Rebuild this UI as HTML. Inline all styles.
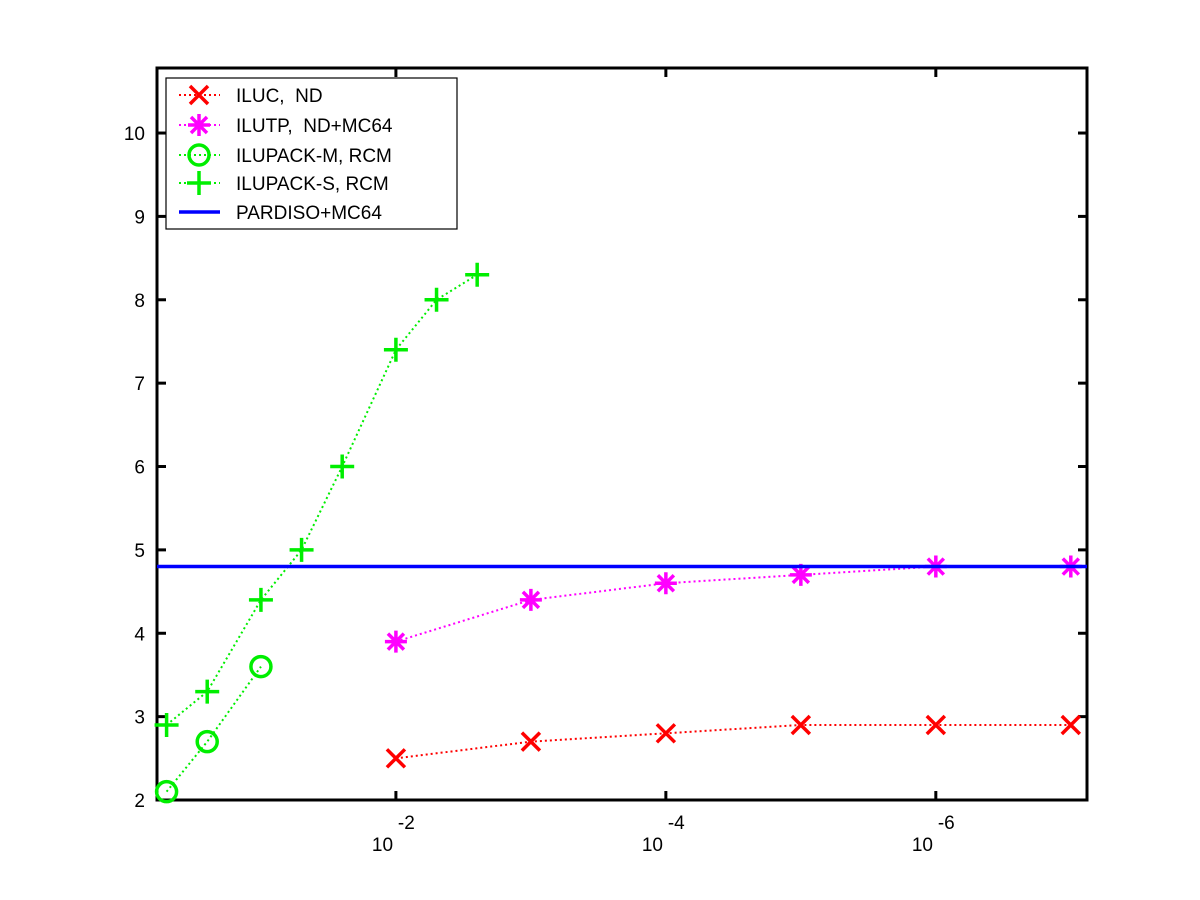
<!DOCTYPE html>
<html><head><meta charset="utf-8"><style>body{margin:0;background:#fff}svg{display:block;font-family:"Liberation Sans",sans-serif}</style></head>
<body>
<svg id="c" width="1200" height="900"></svg>
<script>
const xExp=[-0.30103,-0.60206,-1,-1.30103,-1.60206,-2,-2.30103,-2.60206];
const ilucX=[-2,-3,-4,-5,-6,-7];
const ilucY=[2.5,2.7,2.8,2.9,2.9,2.9];
const ilutpX=[-2,-3,-4,-5,-6,-7];
const ilutpY=[3.9,4.4,4.6,4.7,4.8,4.8];
const ilupackMX=[-0.30103,-0.60206,-1];
const ilupackMY=[2.1,2.7,3.6];
const ilupackSY=[2.9,3.3,4.4,5.0,6.0,7.4,8.0,8.3];
const pardisoY=[4.8];
const yTicks=[2,3,4,5,6,7,8,9,10];
const xTicks=[-2,-4,-6];
const X0=157,X1=1087,Y0=800,Y1=68;
const eMin=-0.23,eMax=-7.12,yMin=2,yMax=10.78;
const sx=e=>X0+(e-eMin)/(eMax-eMin)*(X1-X0);
const sy=v=>Y0-(v-yMin)/(yMax-yMin)*(Y0-Y1);
const svg=document.getElementById('c');const NS='http://www.w3.org/2000/svg';
function mk(t,a,p){const e=document.createElementNS(NS,t);for(const k in a)e.setAttribute(k,a[k]);(p||svg).appendChild(e);return e;}
const ax=mk('g',{});


mk('rect',{x:X0,y:Y1,width:X1-X0,height:Y0-Y1,fill:'none',stroke:'#000','stroke-width':3},ax);
yTicks.forEach(v=>{const y=sy(v);
mk('line',{x1:X0,x2:X0+9,y1:y,y2:y,stroke:'#000','stroke-width':3},ax);
mk('line',{x1:X1-9,x2:X1,y1:y,y2:y,stroke:'#000','stroke-width':3},ax);
const t=mk('text',{x:X0-12,y:y+7,'text-anchor':'end','font-size':19},ax);t.textContent=v;

});
xTicks.forEach(e=>{const x=sx(e);
mk('line',{x1:x,x2:x,y1:Y0,y2:Y0-9,stroke:'#000','stroke-width':3},ax);
mk('line',{x1:x,x2:x,y1:Y1,y2:Y1+9,stroke:'#000','stroke-width':3},ax);
const t=mk('text',{x:x-24,y:Y0+51,'font-size':19},ax);t.textContent='10';


const s=mk('text',{x:x+2,y:Y0+29,'font-size':19},ax);s.textContent=e;

});
function series(name,xs,ys,col,marker){
const g=mk('g',{});


mk('polyline',{points:xs.map((e,i)=>sx(e)+','+sy(ys[i])).join(' '),fill:'none',stroke:col,'stroke-width':2,'stroke-dasharray':'2,3'},g);
xs.forEach((e,i)=>drawMarker(g,marker,sx(e),sy(ys[i]),col));}
function drawMarker(g,m,x,y,col){const w=3.5;
if(m==='x'){mk('path',{d:`M${x-9} ${y-9}L${x+9} ${y+9}M${x-9} ${y+9}L${x+9} ${y-9}`,stroke:col,'stroke-width':w},g);}
else if(m==='*'){mk('path',{d:`M${x-11} ${y}H${x+11}M${x} ${y-11}V${y+11}M${x-8} ${y-8}L${x+8} ${y+8}M${x-8} ${y+8}L${x+8} ${y-8}`,stroke:col,'stroke-width':w},g);}
else if(m==='o'){mk('circle',{cx:x,cy:y,r:10,fill:'none',stroke:col,'stroke-width':w},g);}
else {mk('path',{d:`M${x-12} ${y}H${x+12}M${x} ${y-12}V${y+12}`,stroke:col,'stroke-width':w},g);}}
series('series-iluc',ilucX,ilucY,'#ff0000','x');
series('series-ilutp',ilutpX,ilutpY,'#ff00ff','*');
series('series-ilupack-m',ilupackMX,ilupackMY,'#00ee00','o');
series('series-ilupack-s',xExp,ilupackSY,'#00ee00','+');
const pl=mk('line',{x1:X0,x2:X1,y1:sy(pardisoY[0]),y2:sy(pardisoY[0]),stroke:'#0000ff','stroke-width':3.5});


const lg=mk('g',{});


mk('rect',{x:166,y:78,width:291,height:151,fill:'#fff',stroke:'#000','stroke-width':1.2},lg);
const labels=['ILUC,  ND','ILUTP,  ND+MC64','ILUPACK-M, RCM','ILUPACK-S, RCM','PARDISO+MC64'];
const cols=['#ff0000','#ff00ff','#00ee00','#00ee00','#0000ff'];
const marks=['x','*','o','+',null];
const rowY=[95,125,155,183,212];
labels.forEach((l,i)=>{const y=rowY[i];
const eg=mk('g',{},lg);


if(marks[i]){mk('line',{x1:179,x2:220,y1:y,y2:y,stroke:cols[i],'stroke-width':2,'stroke-dasharray':'2,3'},eg);drawMarker(eg,marks[i],199,y,cols[i]);}
else mk('line',{x1:179,x2:220,y1:y,y2:y,stroke:cols[i],'stroke-width':3.5},eg);
const t=mk('text',{x:236,y:y+7,'font-size':19,'xml:space':'preserve'},eg);t.textContent=l;t.style.whiteSpace='pre';});
</script>
</body></html>
